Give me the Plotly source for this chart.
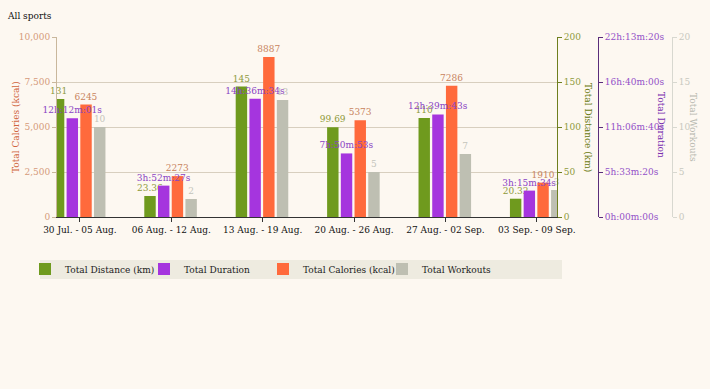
import plotly.graph_objects as go

weeks = ["30 Jul. - 05 Aug.", "06 Aug. - 12 Aug.", "13 Aug. - 19 Aug.",
         "20 Aug. - 26 Aug.", "27 Aug. - 02 Sep.", "03 Sep. - 09 Sep."]
distance_km = [131, 23.36, 145, 99.69, 110, 20.32]
duration_labels = ["12h:12m:01s", "3h:52m:27s", "14h:36m:34s",
                   "7h:50m:53s", "12h:39m:43s", "3h:15m:34s"]
calories_kcal = [6245, 2273, 8887, 5373, 7286, 1910]
workouts = [10, 2, 13, 5, 7, 3]

dur_tick_vals = [0, 20000, 40000, 60000, 80000]
dur_tick_text = ["0h:00m:00s", "5h:33m:20s", "11h:06m:40s", "16h:40m:00s", "22h:13m:20s"]


def to_seconds(s):
    h, m, sec = s.replace("h", "").replace("m", "").replace("s", "").split(":")
    return int(h) * 3600 + int(m) * 60 + int(sec)


duration_s = [to_seconds(s) for s in duration_labels]

FONT = "DejaVu Serif"
FS = 9
GREEN, PURPLE, ORANGE, GREY = "#6f9a1e", "#a535de", "#ff6a3c", "#bebfb2"
BG = "#fdf8f1"

# pixel layout helpers
L, R_MARGIN, T, B = 57, 10, 37, 172
PW = 710 - L - R_MARGIN          # paper width in px
PH = 389 - T - B                  # paper height in px
px2x = lambda px: (px - L) / PW
py2y = lambda py: (389 - B - py) / PH

W, OFFS = 0.125, [-0.295, -0.145, 0.005, 0.155]

fig = go.Figure()
fig.add_trace(go.Bar(name="Total Distance (km)", x=weeks, y=distance_km, yaxis="y2",
                     marker=dict(color=GREEN, line=dict(width=0)), width=W, offset=OFFS[0],
                     text=[f"{v:g}" for v in distance_km], textposition="outside",
                     textfont=dict(color="#8e9a3c", size=FS, family=FONT)))
fig.add_trace(go.Bar(name="Total Duration", x=weeks, y=duration_s, yaxis="y3",
                     marker=dict(color=PURPLE, line=dict(width=0)), width=W, offset=OFFS[1],
                     text=duration_labels, textposition="outside",
                     textfont=dict(color="#8a44c4", size=FS, family=FONT)))
fig.add_trace(go.Bar(name="Total Calories (kcal)", x=weeks, y=calories_kcal, yaxis="y",
                     marker=dict(color=ORANGE, line=dict(width=0)), width=W, offset=OFFS[2],
                     text=[str(v) for v in calories_kcal], textposition="outside",
                     textfont=dict(color="#c8845e", size=FS, family=FONT)))
fig.add_trace(go.Bar(name="Total Workouts", x=weeks, y=workouts, yaxis="y4",
                     marker=dict(color=GREY, line=dict(width=0)), width=W, offset=OFFS[3],
                     text=[str(v) for v in workouts], textposition="outside",
                     textfont=dict(color="#c4c4bb", size=FS, family=FONT)))
fig.update_traces(constraintext="none", cliponaxis=False, textangle=0)

tickfont = lambda c: dict(family=FONT, size=FS, color=c)

fig.update_layout(
    width=710, height=389, autosize=False,
    margin=dict(l=L, r=R_MARGIN, t=T, b=B, autoexpand=False),
    paper_bgcolor=BG, plot_bgcolor=BG,
    font=dict(family=FONT, size=FS, color="#222"),
    barmode="overlay",
    showlegend=True,
    title=dict(text="All sports", x=8 / 710, xref="container", xanchor="left",
               y=1 - 16 / 389, yref="container", yanchor="middle",
               font=dict(family=FONT, size=FS, color="#111")),
    xaxis=dict(type="category", range=[-0.25, 5.22], domain=[0, px2x(557)],
               showline=True, linecolor="#333", automargin=False,
               linewidth=1, ticks="outside", ticklen=4, tickcolor="#333",
               tickfont=tickfont("#111"), showgrid=False, zeroline=False),
    yaxis=dict(range=[0, 10000], tickvals=[0, 2500, 5000, 7500, 10000], tickformat=",",
               showline=True, linecolor="#c9b79c", ticks="outside", ticklen=4, automargin=False,
               tickcolor="#c9b79c", tickfont=tickfont("#d59a7a"),
               showgrid=True, gridcolor="#d8cfbf", zeroline=False),
    yaxis2=dict(range=[0, 200], tickvals=[0, 50, 100, 150, 200], overlaying="y", side="right",
                anchor="x", showline=True, linecolor="#6f7f1e", ticks="outside", ticklen=4,
                automargin=False,
                tickcolor="#6f7f1e", tickfont=tickfont("#8e9a3c"), showgrid=False, zeroline=False),
    yaxis3=dict(range=[0, 80000], tickvals=dur_tick_vals, ticktext=dur_tick_text,
                overlaying="y", side="right", anchor="free", position=px2x(598),
                showline=True, linecolor="#5a2d7a", ticks="outside", ticklen=4, automargin=False,
                tickcolor="#5a2d7a", tickfont=tickfont("#9350c8"), showgrid=False, zeroline=False),
    yaxis4=dict(range=[0, 20], tickvals=[0, 5, 10, 15, 20], overlaying="y", side="right",
                anchor="free", position=px2x(672), automargin=False,
                showline=True, linecolor="#d8d8d0", ticks="outside", ticklen=4,
                tickcolor="#d8d8d0", tickfont=tickfont("#c8c8c0"), showgrid=False, zeroline=False),
    legend=dict(orientation="h", x=px2x(25), xanchor="left", y=py2y(269),
                yanchor="middle", bgcolor="rgba(0,0,0,0)", entrywidth=74,
                entrywidthmode="pixels", itemwidth=30,
                font=dict(family=FONT, size=FS, color="#222"), itemclick=False),
)

# legend background band
fig.add_shape(type="rect", xref="paper", yref="paper",
              x0=px2x(40), x1=px2x(562), y0=py2y(279), y1=py2y(260),
              fillcolor="#eeebe0", line=dict(width=0), layer="below")

annots = [
    ("Total Calories (kcal)", 16, 127, -90, "#d0653e"),
    ("Total Distance (km)", 588, 127, 90, "#6b7a12"),
    ("Total Duration", 661, 125, 90, "#7a2fb0"),
    ("Total Workouts", 693, 127, 90, "#b8b8b0"),
]
for txt, px, py, ang, col in annots:
    fig.add_annotation(text=txt, xref="paper", yref="paper",
                       x=px2x(px), y=py2y(py), showarrow=False,
                       textangle=ang, font=dict(family=FONT, size=FS, color=col),
                       xanchor="center", yanchor="middle")

fig.write_html("out.html", config={"displayModeBar": False, "responsive": False},
               post_script="document.body.style.margin='0';document.body.style.overflow='hidden';"
                           "document.body.style.background='%s';" % BG)
